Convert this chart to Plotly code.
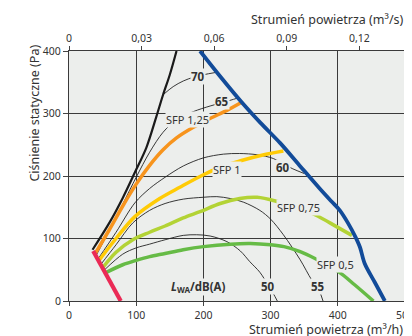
import plotly.graph_objects as go

# ---- data (airflow m3/h, static pressure Pa) ----
max_x = [35, 60, 80, 99, 115, 130, 140, 150, 160]
max_y = [82, 125, 165, 208, 245, 295, 330, 362, 400]

blue_x = [195, 226, 257, 285, 314, 343, 373, 390, 403, 415, 426, 433, 440, 455, 470]
blue_y = [400, 358, 318, 285, 253, 217, 180, 160, 145, 125, 103, 86, 60, 30, 0]

red_x = [36, 77]
red_y = [80, 0]

sfp125_x = [38.5, 60, 80, 100, 120, 140, 160, 185, 210, 235, 257]
sfp125_y = [75, 114, 152, 187, 217, 242, 261, 278, 292, 305, 318]

sfp1_x = [44, 70, 98, 135, 165, 200, 230, 254, 290, 319]
sfp1_y = [64, 100, 135, 164, 182, 202, 216, 224, 234, 240]

sfp075_x = [50, 70, 95, 120, 143, 170, 195, 225, 254, 280, 307, 340, 366, 398, 421]
sfp075_y = [53, 78, 98, 110, 120, 133, 143, 156, 164, 166, 160, 148, 138, 119, 105]

sfp05_x = [54, 80, 100, 120, 143, 170, 200, 240, 270, 300, 320, 344, 366, 401, 425, 453]
sfp05_y = [45, 58, 65, 71, 76, 82, 87, 91, 92, 90, 87, 79, 68, 47, 26, 0]

db70_x = [140, 155, 170, 185, 200, 220]
db70_y = [330, 343, 352, 358, 362, 366]

db65_x = [41, 60, 80, 100, 120, 140, 160, 185, 210, 230, 252]
db65_y = [74, 113, 155, 198, 238, 270, 290, 303, 312, 318, 325]

db60_x = [43, 70, 98, 120, 143, 170, 200, 230, 254, 280, 304, 332, 350]
db60_y = [67, 110, 157, 180, 198, 216, 229, 235, 236, 234, 228, 212, 204]

db55_x = [47, 70, 95, 120, 143, 170, 200, 220, 240, 260, 284, 300, 319, 344, 361, 371, 378]
db55_y = [58, 90, 125, 145, 156, 163, 166, 167, 164, 158, 145, 131, 106, 66, 34, 20, 0]

db50_x = [52, 80, 100, 120, 143, 170, 190, 210, 235, 255, 269, 284, 296, 304, 310]
db50_y = [49, 75, 85, 91, 98, 105, 106, 104, 95, 80, 63, 46, 26, 12, 0]

x_ticks = [0, 100, 200, 300, 400, 500]
y_ticks = [0, 100, 200, 300, 400]
top_tick_vals = [0, 108, 216, 324, 432]  # m3/h equivalents of m3/s
top_tick_text = ["0", "0,03", "0,06", "0,09", "0,12"]

labels = [
    ("<b>70</b>", 192, 360), ("<b>65</b>", 228, 320), ("<b>60</b>", 318, 214),
    ("<b>55</b>", 371, 24), ("<b>50</b>", 296, 24),
    ("SFP 1,25", 176, 291), ("SFP 1", 235, 210), ("SFP 0,75", 341, 149),
    ("SFP 0,5", 397, 59), ("<b><i>L</i><sub>WA</sub>/dB(A)</b>", 193, 22),
]

BG = "#eceeec"
TXT = "#333333"
FONT = "Noto Sans"

fig = go.Figure()

def add(x, y, color, width, xaxis="x"):
    fig.add_trace(go.Scatter(x=x, y=y, mode="lines", xaxis=xaxis,
                             line=dict(color=color, width=width, shape="spline", smoothing=0.9),
                             hoverinfo="skip", showlegend=False))

for xs, ys in [(db70_x, db70_y), (db65_x, db65_y), (db60_x, db60_y), (db55_x, db55_y), (db50_x, db50_y)]:
    add(xs, ys, "#222222", 0.9)

add(sfp05_x, sfp05_y, "#66bb46", 3.5)
add(sfp075_x, sfp075_y, "#b3d335", 3.5)
add(sfp1_x, sfp1_y, "#ffcb05", 3.5)
add(sfp125_x, sfp125_y, "#f7941d", 3.5)
add(max_x, max_y, "#1a1a1a", 2.2)
add(blue_x, blue_y, "#124b99", 3.8)
add(red_x, red_y, "#ea2a55", 4.2, xaxis="x2")

for text, x, y in labels:
    fig.add_annotation(x=x, y=y, text=text, showarrow=False, bgcolor=BG, borderpad=0,
                       font=dict(family=FONT, size=11.5 if "<b>" in text else 11, color=TXT))

fig.add_annotation(xref="paper", yref="paper", x=1.0, y=1.124, xanchor="right", yanchor="middle",
                   text="Strumień powietrza (m³/s)", showarrow=False, borderpad=0,
                   font=dict(family=FONT, size=12.5, color=TXT))
fig.add_annotation(xref="paper", yref="paper", x=0.997, y=-0.112, xanchor="right", yanchor="middle",
                   text="Strumień powietrza (m³/h)", showarrow=False, borderpad=0,
                   font=dict(family=FONT, size=12.5, color=TXT))
fig.add_annotation(xref="paper", yref="paper", x=-0.104, y=0.75, xanchor="center", yanchor="middle",
                   text="Ciśnienie statyczne (Pa)", textangle=-90, showarrow=False, borderpad=0,
                   font=dict(family=FONT, size=12.5, color=TXT))

fig.update_layout(
    width=412, height=336,
    margin=dict(l=61, r=15, t=43, b=43, autoexpand=False),
    paper_bgcolor="white", plot_bgcolor=BG,
    font=dict(family=FONT, size=10.5, color=TXT),
    xaxis=dict(range=[0, 500], tickvals=x_ticks, ticks="outside", ticklen=4, tickcolor="#444",
               showgrid=True, gridcolor="#3a3a3a", gridwidth=1, zeroline=False,
               showline=True, linecolor="#3a3a3a", linewidth=1, mirror=True, fixedrange=True,
               automargin=False),
    xaxis2=dict(range=[0, 500], overlaying="x", side="top", anchor="y", tickvals=top_tick_vals,
                ticktext=top_tick_text, ticks="outside", ticklen=4, tickcolor="#444",
                showgrid=False, zeroline=False, showline=False, automargin=False, fixedrange=True),
    yaxis=dict(range=[0, 400], tickvals=y_ticks, ticks="outside", ticklen=5, tickcolor="#444",
               showgrid=True, gridcolor="#3a3a3a", gridwidth=1, zeroline=False,
               showline=True, linecolor="#3a3a3a", linewidth=1, mirror=True, fixedrange=True,
               automargin=False),
)

fig.write_html("out.html")
